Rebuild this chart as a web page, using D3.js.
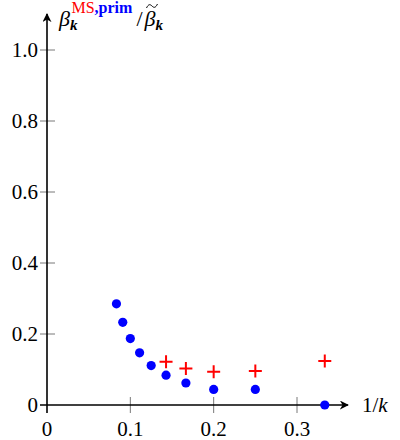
<!DOCTYPE html>
<html>
<head>
<meta charset="utf-8">
<script src="https://cdn.jsdelivr.net/npm/d3@7"></script>
<style>
  body { margin: 0; background: #fff; }
  svg text, svg tspan { font-family: "Liberation Serif", "Times New Roman", serif !important; }
</style>
</head>
<body>
<div id="chart"></div>
<script>
// 1/k for k = 12 .. 3
const kBlue = [12, 11, 10, 9, 8, 7, 6, 5, 4, 3];
const blueVals = [0.285, 0.233, 0.187, 0.147, 0.111, 0.084, 0.062, 0.044, 0.044, 0.0];
const kRed = [7, 6, 5, 4, 3];
const redVals = [0.122, 0.103, 0.094, 0.096, 0.124];
const xTicks = [0, 0.1, 0.2, 0.3];
const yTicks = [0, 0.2, 0.4, 0.6, 0.8, 1.0];

const FONT = "'Liberation Serif', 'Times New Roman', serif";
const W = 400, H = 440;
const svg = d3.select("#chart").append("svg")
    .attr("width", W).attr("height", H)
    .style("font-family", FONT);

const x = d3.scaleLinear().domain([0, 0.3]).range([47, 297]);
const y = d3.scaleLinear().domain([0, 1]).range([405, 50]);

// arrow marker
svg.append("defs").append("marker")
    .attr("id", "arr")
    .attr("viewBox", "0 0 10 10")
    .attr("refX", 9).attr("refY", 5)
    .attr("markerWidth", 9).attr("markerHeight", 9)
    .attr("markerUnits", "userSpaceOnUse")
    .attr("orient", "auto")
    .append("path")
    .attr("d", "M0,0 L10,5 L0,10 L3,5 Z")
    .attr("fill", "#000");

// ticks
svg.selectAll(".xt").data(xTicks.slice(1)).join("line")
    .attr("x1", d => x(d)).attr("x2", d => x(d))
    .attr("y1", y(0) - 8).attr("y2", y(0) + 8)
    .attr("stroke", "#555").attr("stroke-width", 0.8);
svg.selectAll(".yt").data(yTicks.slice(1)).join("line")
    .attr("x1", x(0) - 7).attr("x2", x(0) + 8)
    .attr("y1", d => y(d)).attr("y2", d => y(d))
    .attr("stroke", "#555").attr("stroke-width", 0.8);

// axes
svg.append("line")
    .attr("x1", x(0) - 7).attr("x2", 348)
    .attr("y1", y(0)).attr("y2", y(0))
    .attr("stroke", "#000").attr("stroke-width", 1.6)
    .attr("marker-end", "url(#arr)");
svg.append("line")
    .attr("x1", x(0)).attr("x2", x(0))
    .attr("y1", y(0) + 8).attr("y2", 14)
    .attr("stroke", "#000").attr("stroke-width", 1.6)
    .attr("marker-end", "url(#arr)");

// tick labels
svg.selectAll(".xl").data(xTicks).join("text")
    .attr("x", d => x(d)).attr("y", 436)
    .attr("text-anchor", "middle")
    .style("font-family", FONT)
    .attr("font-size", 21)
    .text(d => d === 0 ? "0" : d3.format(".1f")(d));
svg.selectAll(".yl").data(yTicks).join("text")
    .attr("x", 38).attr("y", d => y(d) + 7)
    .attr("text-anchor", "end")
    .style("font-family", FONT)
    .attr("font-size", 21)
    .text(d => d === 0 ? "0" : d3.format(".1f")(d));

// axis labels
const xl = svg.append("text")
    .attr("x", 362).attr("y", 412)
    .style("font-family", FONT)
    .attr("font-size", 21);
xl.append("tspan").text("1/");
xl.append("tspan").attr("font-style", "italic").text("k");

const lab = svg.append("text")
    .attr("x", 59).attr("y", 26)
    .style("font-family", FONT)
    .attr("font-size", 22);
lab.append("tspan").attr("font-style", "italic").text("β");
lab.append("tspan").attr("font-style", "italic").attr("font-weight", "bold")
    .attr("font-size", 15).attr("dx", 0).attr("dy", 4).text("k");
lab.append("tspan").attr("font-size", 16).attr("fill", "#ff0000")
    .attr("dx", -6).attr("dy", -17).text("MS");
lab.append("tspan").attr("font-size", 16).attr("fill", "#0000ff")
    .attr("font-weight", "bold").text(",prim");
lab.append("tspan").attr("dx", 4).attr("dy", 13).text("/");
lab.append("tspan").attr("font-style", "italic").attr("dx", 2).text("β");
lab.append("tspan").attr("font-style", "italic").attr("font-weight", "bold")
    .attr("font-size", 15).attr("dx", 0).attr("dy", 4).text("k");

// wide tilde over the second beta (char index 10 of the label)
const n = lab.node();
const b0 = n.getStartPositionOfChar(10).x + 2;
const b1 = n.getEndPositionOfChar(10).x + 2;
const tm = (b0 + b1) / 2;
svg.append("path")
    .attr("d", `M${b0},8 C${b0 + 2},4 ${tm - 2},4 ${tm},6 S${b1 - 2},8 ${b1},4`)
    .attr("fill", "none").attr("stroke", "#000").attr("stroke-width", 1);

// blue points
svg.selectAll(".bp").data(kBlue).join("circle")
    .attr("cx", (d) => x(1 / d))
    .attr("cy", (d, i) => y(blueVals[i]))
    .attr("r", 4.6)
    .attr("fill", "#0000ff");

// red crosses
const cs = 6.5;
svg.selectAll(".rc").data(kRed).join("path")
    .attr("d", (d, i) => {
        const cx = x(1 / d), cy = y(redVals[i]);
        return `M${cx - cs},${cy}H${cx + cs}M${cx},${cy - cs}V${cy + cs}`;
    })
    .attr("stroke", "#ff0000").attr("stroke-width", 2)
    .attr("fill", "none");
</script>
</body>
</html>
